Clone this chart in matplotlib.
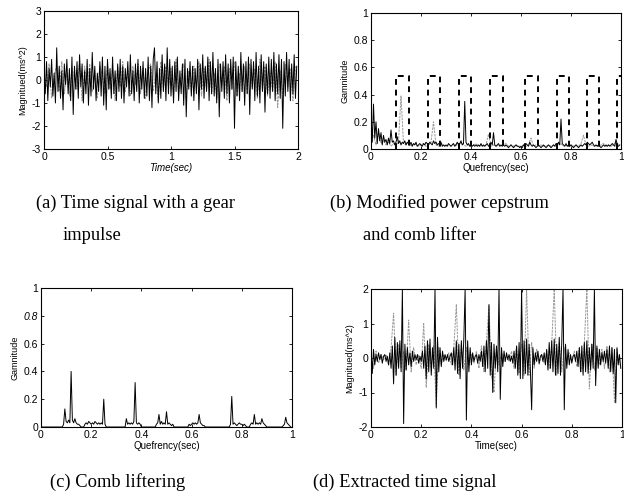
import numpy as np
import matplotlib
matplotlib.use("Agg")
import matplotlib.pyplot as plt
from matplotlib.ticker import FormatStrFormatter

# ---- data ----
# (a) time signal, black trace every 0.01 s, gray trace every 0.02 s
sig_a = [0.2, -0.6, 0.8, -0.9, 0.5, -0.3, 0.9, -0.7, 0.3, -1.0, 1.4, -0.5, 0.6, -0.8, 0.4, -1.3, 0.7, -0.2, 0.9, -0.6,
         0.5, -0.9, 1.0, -1.5, 0.6, -0.4, 0.8, -0.8, 1.1, -0.3, 0.7, -1.0, 0.4, -0.6, 0.9, -1.1, 0.5, -0.7, 1.2, -0.4,
         0.6, -0.9, 0.3, -0.5, 0.8, -0.7, 1.0, -1.1, 0.6, -1.3, 0.9, -0.4, 0.5, -0.8, 1.0, -0.6, 0.4, -0.9, 0.7, -0.5,
         0.9, -0.8, 0.6, -1.0, 0.5, -0.3, 0.8, -0.7, 1.1, -0.6, 0.4, -0.9, 0.7, -0.5, 0.9, -1.0, 0.6, -0.4, 0.8, -0.8,
         0.5, -0.7, 1.0, -0.9, 0.6, -1.2, 0.9, 1.4, -0.6, 0.8, -1.0, 0.5, -0.8, 1.1, -0.5, 0.7, -0.9, 1.4, -0.6, 0.9,
         -0.7, 0.6, -1.0, 0.8, -0.5, 1.0, -0.9, 0.4, -0.6, 0.7, -1.1, 0.9, -1.6, 0.5, -0.4, 0.8, -0.7, 0.6, -0.9, 0.5,
         -0.6, 0.9, -1.3, 0.7, -0.4, 1.1, -0.8, 0.6, -0.5, 1.0, -0.9, 0.8, -0.6, 1.2, -0.7, 0.5, -1.0, 0.9, -1.6, 0.7,
         -0.5, 0.8, -0.8, 1.1, -0.6, 0.7, -1.0, 0.9, -0.4, 1.0, -2.1, 0.8, -0.7, 0.6, -0.9, 1.2, -0.5, 0.7, -1.1, 0.8,
         -0.6, 1.0, -1.5, 0.9, -0.4, 0.8, -0.9, 1.2, -0.7, 0.6, -1.0, 1.1, -0.5, 0.8, -1.4, 0.7, -0.6, 1.0, -0.8, 0.9,
         -0.5, 1.2, -0.9, 0.7, -0.6, 1.1, -0.8, 0.9, -2.1, 0.8, -0.7, 1.2, -0.5, 0.9, -0.9, 0.7, -0.6, 1.1, -0.8, 0.6]
sig_a_gray = [0.4, -0.3, 0.7, -0.8, 0.2, 0.6, -0.5, 0.8, -0.6, 0.3, -0.7, 0.5, 0.1, -0.4, 0.8, -0.9, 0.6, -0.2, 0.7, -0.5,
              0.3, -0.8, 0.6, 0.2, -0.6, 0.7, -0.4, 0.5, -0.9, 0.6, -0.3, 0.8, -0.5, 0.4, -0.7, 0.6, -0.2, 0.7, -0.6, 0.5,
              -0.8, 0.4, 0.7, -0.5, 0.3, -0.9, 0.8, -0.4, 0.6, -0.3, 0.5, -0.7, 0.9, -0.6, 0.2, 0.7, -0.8, 0.4, -0.5, 0.6,
              -0.3, 0.8, -0.7, 0.5, -0.4, 0.9, -0.6, 0.3, -0.8, 0.7, -0.2, 0.6, -0.9, 0.5, -0.4, 0.8, -0.7, 0.3, -0.5, 0.6,
              -0.6, 0.7, -0.3, 0.5, -0.8, 0.9, -0.4, 0.6, -0.7, 0.3, -0.5, 0.8, -1.2, 0.4, -0.6, 0.7, -0.3, 0.5, -0.9, 0.6]

# (b) modified power cepstrum, black every 0.005 s, gray every 0.01 s
cep_b = [0.26, 0.05, 0.33, 0.08, 0.20, 0.04, 0.15, 0.06, 0.12, 0.03, 0.10, 0.05, 0.07, 0.03, 0.08, 0.04, 0.14, 0.05, 0.06, 0.03,
         0.05, 0.09, 0.04, 0.06, 0.03, 0.05, 0.04, 0.06, 0.03, 0.05, 0.04, 0.03, 0.05, 0.02, 0.04, 0.03, 0.05, 0.02, 0.03, 0.04,
         0.03, 0.02, 0.04, 0.03, 0.05, 0.04, 0.03, 0.05, 0.04, 0.03, 0.06, 0.04, 0.05, 0.03, 0.04, 0.03, 0.05, 0.02, 0.03, 0.02,
         0.03, 0.02, 0.04, 0.03, 0.02, 0.03, 0.04, 0.02, 0.03, 0.05, 0.03, 0.04, 0.06, 0.03, 0.04, 0.35, 0.05, 0.03, 0.04, 0.02,
         0.03, 0.02, 0.03, 0.02, 0.03, 0.02, 0.03, 0.02, 0.04, 0.02, 0.03, 0.02, 0.03, 0.04, 0.02, 0.03, 0.05, 0.03, 0.12, 0.03,
         0.02, 0.03, 0.04, 0.02, 0.03, 0.02, 0.03, 0.02, 0.03, 0.02, 0.01, 0.02, 0.03, 0.02, 0.01, 0.02, 0.03, 0.02, 0.02, 0.01,
         0.02, 0.01, 0.03, 0.02, 0.04, 0.03, 0.02, 0.05, 0.03, 0.02, 0.03, 0.02, 0.01, 0.02, 0.03, 0.02, 0.01, 0.02, 0.03, 0.02,
         0.01, 0.02, 0.03, 0.02, 0.01, 0.02, 0.03, 0.02, 0.04, 0.03, 0.05, 0.03, 0.22, 0.04, 0.03, 0.02, 0.04, 0.02, 0.03, 0.02,
         0.03, 0.02, 0.01, 0.02, 0.03, 0.02, 0.01, 0.02, 0.03, 0.02, 0.03, 0.04, 0.03, 0.05, 0.04, 0.03, 0.04, 0.05, 0.03, 0.02,
         0.03, 0.02, 0.03, 0.02, 0.01, 0.02, 0.03, 0.02, 0.03, 0.02, 0.03, 0.02, 0.03, 0.04, 0.03, 0.02, 0.07, 0.03, 0.02, 0.03]
cep_b_gray = [0.05, 0.10, 0.03, 0.12, 0.04, 0.06, 0.03, 0.05, 0.02, 0.04,
              0.03, 0.05, 0.39, 0.04, 0.03, 0.05, 0.02, 0.04, 0.03, 0.02,
              0.03, 0.04, 0.02, 0.03, 0.05, 0.20, 0.03, 0.02, 0.04, 0.03,
              0.02, 0.03, 0.02, 0.04, 0.03, 0.02, 0.05, 0.03, 0.02, 0.03,
              0.02, 0.03, 0.04, 0.02, 0.03, 0.02, 0.03, 0.11, 0.02, 0.03,
              0.02, 0.03, 0.02, 0.03, 0.04, 0.02, 0.03, 0.02, 0.03, 0.02,
              0.02, 0.03, 0.02, 0.03, 0.08, 0.02, 0.03, 0.02, 0.03, 0.02,
              0.02, 0.03, 0.02, 0.03, 0.02, 0.03, 0.04, 0.02, 0.03, 0.02,
              0.03, 0.02, 0.03, 0.02, 0.04, 0.10, 0.03, 0.02, 0.03, 0.02,
              0.03, 0.02, 0.03, 0.04, 0.02, 0.03, 0.02, 0.03, 0.06, 0.03]

# comb lifter windows
lift_start = [0.101, 0.226, 0.350, 0.477, 0.617, 0.743, 0.863, 0.985]
lift_end = [0.150, 0.274, 0.399, 0.527, 0.667, 0.790, 0.912, 1.03]
lift_height = 0.535

# (c) liftered cepstrum every 0.005 s
cep_c = [0, 0, 0, 0, 0, 0, 0, 0, 0, 0, 0, 0, 0, 0, 0, 0, 0, 0, 0.02, 0.13,
         0.04, 0.03, 0.05, 0.03, 0.40, 0.05, 0.03, 0.06, 0.03, 0.02, 0.02, 0.01, 0, 0, 0, 0.02, 0.03, 0.02, 0.04, 0.03,
         0.02, 0.03, 0.02, 0.04, 0.03, 0.02, 0.03, 0.02, 0.03, 0.02, 0.20, 0.02, 0, 0, 0, 0, 0, 0, 0, 0,
         0, 0, 0, 0, 0, 0, 0, 0, 0.06, 0.02, 0.03, 0.02, 0.03, 0.02, 0.04, 0.32, 0.03, 0.02, 0.03, 0.02,
         0, 0, 0, 0, 0, 0, 0, 0, 0, 0, 0, 0, 0.02, 0.03, 0.09, 0.02, 0.04, 0.02, 0.03, 0.02,
         0.11, 0.02, 0.03, 0.02, 0.01, 0.02, 0, 0, 0, 0, 0, 0, 0, 0, 0, 0, 0, 0, 0.02, 0.01,
         0.02, 0.03, 0.02, 0.03, 0.02, 0.03, 0.09, 0.03, 0.02, 0.01, 0.01, 0, 0, 0, 0, 0, 0, 0, 0, 0,
         0, 0, 0, 0, 0, 0, 0, 0, 0, 0, 0, 0.02, 0.22, 0.02, 0.03, 0.02, 0.01, 0.02, 0.03, 0.02,
         0.02, 0.01, 0.02, 0.01, 0, 0, 0, 0.02, 0.03, 0.02, 0.09, 0.02, 0.03, 0.02, 0.03, 0.02, 0.06, 0.03, 0.02, 0.01,
         0, 0, 0, 0, 0, 0, 0, 0, 0, 0, 0, 0, 0, 0.01, 0.02, 0.07, 0.03, 0.02, 0.01, 0]

# (d) extracted time signal, black every 0.005 s, gray every 0.01 s
sig_d = [0.3, -0.45, 0.25, -0.2, 0.1, -0.1, 0.15, -0.05, 0.1, -0.15, 0.05, 0.1, -0.1, 0.05, -0.2, 0.15, -0.3, 0.35, -0.75, 0.6,
         -0.5, 0.45, -0.3, 0.5, -0.4, 2.0, -1.9, 0.4, -0.35, 0.3, -0.2, 0.15, -0.25, 0.2, -0.1, 0.1, -0.05, 0.1, -0.15, 0.05,
         -0.1, 0.2, -0.3, 0.35, -0.6, 0.5, -0.4, 0.55, -0.5, 0.3, -0.3, 2.0, -1.45, 0.6, -0.4, 0.3, -0.25, 0.2, -0.1, 0.1,
         -0.05, 0.1, -0.1, 0.05, 0.15, -0.2, 0.3, -0.35, 0.5, -0.45, 0.4, -0.6, 0.5, -0.3, 0.6, 2.0, -1.8, 0.5, -0.4, 0.3,
         -0.2, 0.15, -0.1, 0.05, 0.1, -0.15, 0.1, -0.1, 0.2, -0.25, 0.35, -0.4, 0.5, -0.3, 1.55, -0.5, 0.45, -1.0, 0.4, -0.3,
         0.35, -0.4, 2.0, -1.2, 0.3, -0.25, 0.2, -0.1, 0.15, -0.05, 0.1, -0.1, 0.05, -0.15, 0.2, -0.3, 0.35, -0.5, 0.45, -0.6,
         2.0, -0.6, 0.5, -0.45, 0.55, -0.5, 0.4, -0.35, -1.5, 0.3, -0.2, 0.15, -0.1, 0.2, -0.15, 0.05, 0.1, -0.1, 0.15, -0.2,
         0.25, -0.35, 0.45, -0.3, 0.5, -0.4, 0.55, -0.5, 0.4, -0.45, 0.6, -0.5, 0.45, 2.0, -1.5, 0.4, -0.3, 0.25, -0.2, 0.1,
         -0.15, 0.05, 0.1, -0.1, 0.2, -0.25, 0.3, -0.4, 0.35, -0.5, 0.45, -0.4, 0.5, -0.45, 0.3, -0.35, 0.4, -0.3, 2.0, -0.8,
         0.35, -0.3, 0.25, -0.2, 0.15, -0.1, 0.2, -0.15, 0.25, -0.3, 0.35, -0.4, 0.3, -0.45, 0.25, -1.3, 0.3, -0.2, 0.1, -0.3]
sig_d_gray = [0.1, -0.3, 0.2, -0.15, 0.1, -0.05, 0.1, -0.2, 0.3, 1.3, -0.5, 0.4, -0.3, 0.2, -0.35, 1.1, -0.4, 0.3, -0.2, 0.1,
              -0.3, 1.0, -0.85, 0.4, -0.3, 0.35, -1.4, 0.3, -0.2, 0.1, -0.1, 0.15, -0.2, 0.3, 1.55, -0.5, 0.4, -0.35, 0.3, -0.2,
              0.1, -0.15, 0.2, -0.3, 0.35, -0.4, 0.5, 1.5, -0.45, -1.0, 0.3, -0.2, 0.15, -0.1, 0.05, -0.1, 0.2, -0.3, 0.35, -0.45,
              0.4, -0.5, 2.0, -0.5, 0.45, -0.3, 0.25, -0.2, 0.1, -0.15, 0.2, -0.3, 0.4, 2.0, -0.5, 0.45, -0.4, 0.3, -0.2, 0.15,
              -0.1, 0.2, -0.25, 0.3, -0.4, 0.45, 2.0, -0.9, 0.4, -0.35, 0.3, -0.2, 0.25, -0.3, 0.35, -0.4, 0.3, -1.3, 0.25, -0.2]

captions = [["(a) Time signal with a gear", "impulse"],
            ["(b) Modified power cepstrum", "and comb lifter"],
            ["(c) Comb liftering"],
            ["(d) Extracted time signal"]]

plt.rcParams["font.family"] = ["Liberation Sans", "DejaVu Sans"]

fig = plt.figure(figsize=(6.24, 5.01), dpi=100)

W, H = 624, 501
def add_ax(x0, y0, x1, y1):
    return fig.add_axes([x0 / W, 1 - y1 / H, (x1 - x0) / W, (y1 - y0) / H])

ax_a = add_ax(44, 11, 298, 149)
ax_b = add_ax(371, 13, 621, 149)
ax_c = add_ax(41, 288, 292, 427)
ax_d = add_ax(371, 289, 622, 427)

GRAY = "0.6"
GRAY_LS = (0, (2.5, 1))

def style(ax):
    ax.tick_params(direction="in", length=2.5, width=0.6, labelsize=7.5, pad=2,
                   top=True, right=True)
    for s in ax.spines.values():
        s.set_linewidth(0.8)
    ax.xaxis.set_major_formatter(FormatStrFormatter("%g"))
    ax.yaxis.set_major_formatter(FormatStrFormatter("%g"))

# (a)
t_a = np.arange(len(sig_a)) * 0.01
t_ag = np.arange(len(sig_a_gray)) * 0.02
ax_a.plot(t_ag, sig_a_gray, color=GRAY, lw=0.7, ls=GRAY_LS)
ax_a.plot(t_a, sig_a, color="black", lw=0.7)
ax_a.set_xlim(0, 2)
ax_a.set_ylim(-3, 3)
ax_a.set_xticks([0, 0.5, 1, 1.5, 2])
ax_a.set_yticks([-3, -2, -1, 0, 1, 2, 3])
ax_a.set_xlabel("Time(sec)", fontsize=7, style="italic", labelpad=1)
ax_a.set_ylabel("Magnitued(ms^2)", fontsize=6.5, labelpad=3)
style(ax_a)

# (b)
q_b = np.arange(len(cep_b)) * 0.005
q_bg = np.arange(len(cep_b_gray)) * 0.01
ax_b.plot(q_bg, cep_b_gray, color=GRAY, lw=0.7, ls=GRAY_LS)
ax_b.plot(q_b, cep_b, color="black", lw=0.7)
for s, e in zip(lift_start, lift_end):
    ax_b.plot([s, s, e, e], [0, lift_height, lift_height, 0], color="black",
              lw=1.4, ls=(0, (3, 2.5)))
ax_b.set_xlim(0, 1)
ax_b.set_ylim(0, 1)
ax_b.set_xticks(np.arange(0, 1.01, 0.2))
ax_b.set_yticks(np.arange(0, 1.01, 0.2))
ax_b.set_xlabel("Quefrency(sec)", fontsize=7, labelpad=1)
ax_b.set_ylabel("Gamnitude", fontsize=6.5, labelpad=3)
style(ax_b)

# (c)
q_c = np.arange(len(cep_c)) * 0.005
ax_c.plot(q_c, cep_c, color="black", lw=0.7)
ax_c.set_xlim(0, 1)
ax_c.set_ylim(0, 1)
ax_c.set_xticks(np.arange(0, 1.01, 0.2))
ax_c.set_yticks(np.arange(0, 1.01, 0.2))
ax_c.set_xlabel("Quefrency(sec)", fontsize=7, labelpad=1)
ax_c.set_ylabel("Gamnitude", fontsize=6.5, labelpad=3)
style(ax_c)
for lab in ax_c.get_yticklabels():
    if lab.get_text() == "0.8":
        lab.set_style("italic")

# (d)
t_d = np.arange(len(sig_d)) * 0.005
t_dg = np.arange(len(sig_d_gray)) * 0.01
ax_d.plot(t_dg, sig_d_gray, color=GRAY, lw=0.7, ls=GRAY_LS)
ax_d.plot(t_d, sig_d, color="black", lw=0.7)
ax_d.set_xlim(0, 1)
ax_d.set_ylim(-2, 2)
ax_d.set_xticks(np.arange(0, 1.01, 0.2))
ax_d.set_yticks([-2, -1, 0, 1, 2])
ax_d.set_xlabel("Time(sec)", fontsize=7, labelpad=1)
ax_d.set_ylabel("Magnitued(ms^2)", fontsize=6.5, labelpad=3)
style(ax_d)

# captions under the panels
cap_font = dict(family=["Liberation Serif", "DejaVu Serif"], fontsize=13.3, va="center", ha="left")
fig.text(36 / W, 1 - 203 / H, captions[0][0], **cap_font)
fig.text(63 / W, 1 - 236 / H, captions[0][1], **cap_font)
fig.text(330 / W, 1 - 203 / H, captions[1][0], **cap_font)
fig.text(363 / W, 1 - 236 / H, captions[1][1], **cap_font)
fig.text(50 / W, 1 - 482 / H, captions[2][0], **cap_font)
fig.text(313 / W, 1 - 482 / H, captions[3][0], **cap_font)

fig.savefig("out.png", dpi=100)
